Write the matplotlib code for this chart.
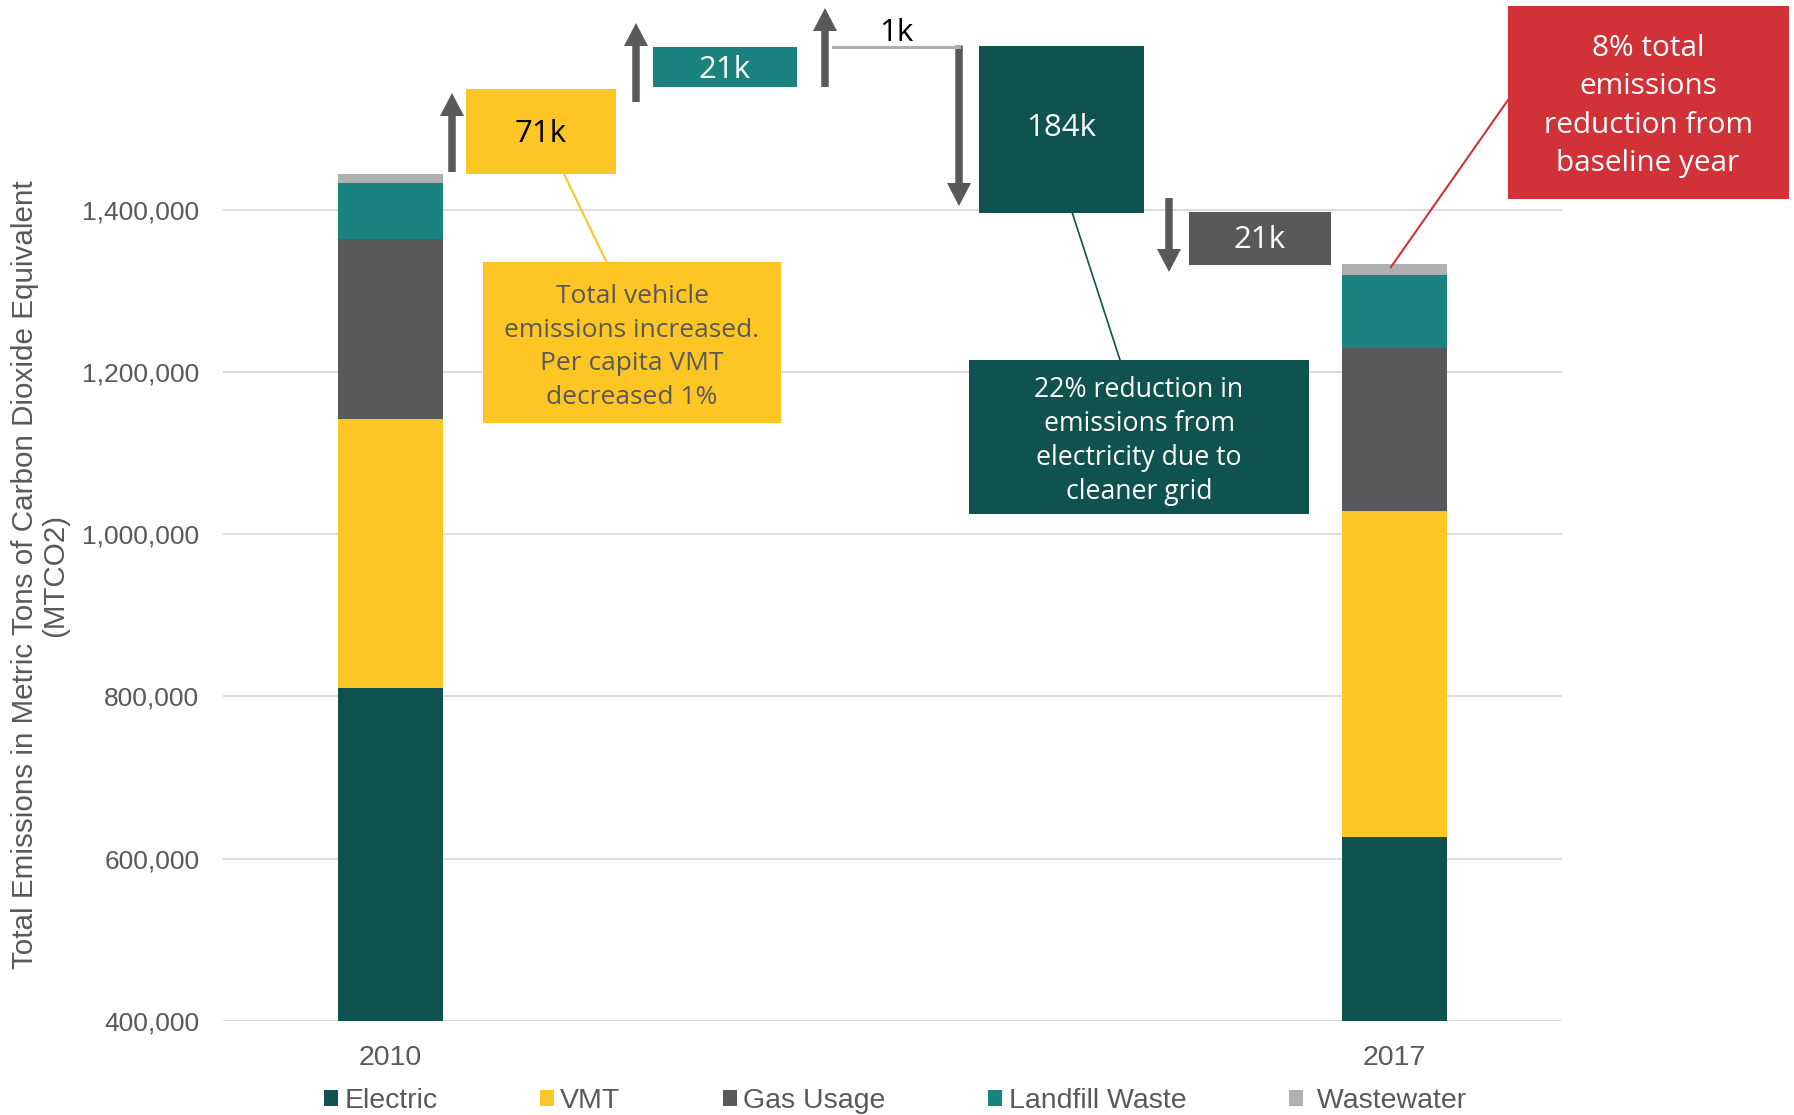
import matplotlib.pyplot as plt
from matplotlib.lines import Line2D
from matplotlib.patches import ArrowStyle, FancyArrowPatch, Rectangle
from matplotlib.ticker import FuncFormatter

# --- data (MTCO2e) -------------------------------------------------------
YEARS = ['2010', '2017']
SECTORS = ['Electric', 'VMT', 'Gas Usage', 'Landfill Waste', 'Wastewater']
EMISSIONS_2010 = [811000, 331000, 222000, 68500, 12000]
EMISSIONS_2017 = [626500, 402000, 201500, 89500, 13000]
Y_TICKS = [400000, 600000, 800000, 1000000, 1200000, 1400000]

SECTOR_COLORS = ['#10524F', '#FDC624', '#58595B', '#1B837F', '#AFAFAF']
GREY_TEXT = '#595959'
ARROW_GREY = '#58595B'
RED = '#D03237'

W, H = 1794, 1115
AX_FONT = 'Liberation Sans'
BOX_FONT = 'Open Sans'


def fx(x):
    return x / W


def fy(y):
    return 1 - y / H


def box(x0, y0, x1, y1, color):
    fig.add_artist(Rectangle(
        (fx(x0), fy(y1)), fx(x1) - fx(x0), fy(y0) - fy(y1),
        transform=fig.transFigure, facecolor=color, edgecolor='none',
    ))


def label(x, y, s, color, size, ls=1.2):
    fig.text(fx(x), fy(y), s, ha='center', va='center', color=color,
             fontsize=size, family=BOX_FONT, linespacing=ls,
             multialignment='center')


def arrow(x, y0, y1):
    fig.add_artist(FancyArrowPatch(
        (fx(x), fy(y0)), (fx(x), fy(y1)), transform=fig.transFigure,
        arrowstyle=ArrowStyle.Simple(head_length=23, head_width=24,
                                     tail_width=7.5),
        mutation_scale=0.72, color=ARROW_GREY, lw=0,
        shrinkA=0, shrinkB=0,
    ))


def leader(x0, y0, x1, y1, color, lw):
    fig.add_artist(Line2D([fx(x0), fx(x1)], [fy(y0), fy(y1)],
                          transform=fig.transFigure, color=color, lw=lw))


fig = plt.figure(figsize=(W / 100, H / 100), dpi=100)
ax = fig.add_axes([fx(223), fy(1021), fx(1562) - fx(223), fy(0) - fy(1021)])

xpos = [0, 1]
bottoms = [0, 0]
for i, name in enumerate(SECTORS):
    vals = [EMISSIONS_2010[i], EMISSIONS_2017[i]]
    ax.bar(xpos, vals, bottom=bottoms, width=0.1046,
           color=SECTOR_COLORS[i], label=name, zorder=2)
    bottoms = [b + v for b, v in zip(bottoms, vals)]

ax.set_xlim(-1 / 6, 7 / 6)
ax.set_ylim(400000, 400000 + 1021 / 811.3 * 1e6)
ax.set_yticks(Y_TICKS)
ax.yaxis.set_major_formatter(FuncFormatter(lambda v, p: f'{v:,.0f}'))
ax.set_xticks(xpos)
ax.set_xticklabels(YEARS)
ax.tick_params(axis='both', length=0, labelcolor=GREY_TEXT)
ax.tick_params(axis='y', pad=17, labelsize=19)
ax.tick_params(axis='x', pad=17, labelsize=20.5)
for t in ax.get_xticklabels() + ax.get_yticklabels():
    t.set_family(AX_FONT)
ax.yaxis.grid(True, color='#D9D9D9', lw=1.3, zorder=0)
ax.set_axisbelow(True)
for s in ax.spines.values():
    s.set_visible(False)
ax.patch.set_alpha(0)

ax.set_ylabel('Total Emissions in Metric Tons of Carbon Dioxide Equivalent\n(MTCO2)',
              fontsize=21.3, family=AX_FONT, color=GREY_TEXT,
              va='center', linespacing=1.1)
ax.yaxis.set_label_coords((40 - 223) / 1339, (1021 - 575) / 1021)

handles, labels = ax.get_legend_handles_labels()
labels[-1] = ' ' + labels[-1]
leg = ax.legend(handles, labels, loc='center', ncol=5, frameon=False,
                bbox_to_anchor=(fx(895), fy(1101)),
                bbox_transform=fig.transFigure,
                prop={'family': AX_FONT, 'size': 20.5},
                handlelength=0.49, handleheight=0.49, handletextpad=0.225,
                columnspacing=3.6, borderpad=0, borderaxespad=0)
for t in leg.get_texts():
    t.set_color(GREY_TEXT)

# --- waterfall annotations (figure pixel layout) -------------------------
arrow(452, 172, 93)
box(466, 89, 616, 174, SECTOR_COLORS[1])
label(541, 133.5, '71k', 'black', 22.5)

arrow(636, 102, 23)
box(653, 47, 797, 87, SECTOR_COLORS[3])
label(725, 69.5, '21k', 'white', 22.5)

arrow(825, 87, 8)
leader(833, 46.7, 959, 46.7, '#AFAFAF', 2.2)
label(896, 33, '1k', 'black', 22.5)

arrow(959, 45.5, 206)
box(979, 46, 1144, 213, SECTOR_COLORS[0])
label(1061, 128.5, '184k', 'white', 22.5)

arrow(1169, 198, 272)
box(1189, 212, 1331, 265, SECTOR_COLORS[2])
label(1260, 239.5, '21k', 'white', 22.5)

leader(1508, 100, 1391, 267, RED, 1.5)
box(1508, 6, 1789, 199, RED)
label(1648, 106, '8% total\nemissions\nreduction from\nbaseline year',
      'white', 21.4, ls=1.42)

leader(564, 174, 606.5, 262, SECTOR_COLORS[1], 1.5)
box(483, 262, 781, 423, SECTOR_COLORS[1])
label(632, 347, 'Total vehicle\nemissions increased.\nPer capita VMT\ndecreased 1%',
      GREY_TEXT, 19, ls=1.45)

leader(1072, 212, 1120, 360, SECTOR_COLORS[0], 1.2)
box(969, 360, 1309, 514, SECTOR_COLORS[0])
label(1139, 441, '22% reduction in\nemissions from\nelectricity due to\ncleaner grid',
      'white', 19.2, ls=1.3)

fig.savefig('out.png', dpi=100)
